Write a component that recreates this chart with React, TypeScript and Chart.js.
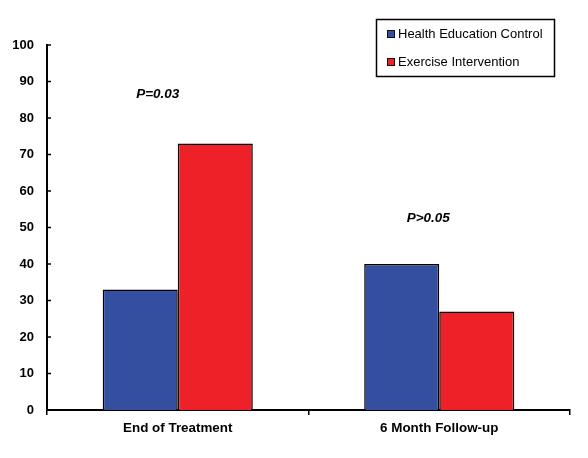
import React, { useEffect, useRef } from "react";
import { Chart, registerables } from "chart.js";

Chart.register(...registerables);

const categories = ["End of Treatment", "6 Month Follow-up"];
const seriesLabels = ["Health Education Control", "Exercise Intervention"];
const controlValues = [33, 40];
const exerciseValues = [73, 27];
const yTickValues = [0, 10, 20, 30, 40, 50, 60, 70, 80, 90, 100];
const pLabels = ["P=0.03", "P>0.05"];
const pLabelValues = [86.5, 52.5];

const BLUE = "#344EA0";
const RED = "#EE2128";
const FONT = "'Liberation Sans', Arial, sans-serif";

const annotationPlugin = {
  id: "annotations",
  afterDraw(chart: any) {
    const ctx = chart.ctx;
    const x = chart.scales.x;
    const y = chart.scales.y;
    ctx.save();
    // inward y ticks
    ctx.strokeStyle = "#000";
    ctx.lineWidth = 1.5;
    yTickValues.forEach((v) => {
      const py = y.getPixelForValue(v);
      ctx.beginPath();
      ctx.moveTo(chart.chartArea.left, py);
      ctx.lineTo(chart.chartArea.left + 4, py);
      ctx.stroke();
    });
    // p labels
    const offsets = [-20, -11];
    ctx.fillStyle = "#000";
    ctx.font = `italic bold 13.5px ${FONT}`;
    ctx.textAlign = "center";
    ctx.textBaseline = "middle";
    pLabels.forEach((t, i) => {
      ctx.fillText(t, x.getPixelForValue(i) + offsets[i], y.getPixelForValue(pLabelValues[i]));
    });
    // legend box
    const bx = 376.5, by = 19.5, bw = 178, bh = 57;
    ctx.lineWidth = 1.5;
    ctx.strokeStyle = "#000";
    ctx.strokeRect(bx, by, bw, bh);
    ctx.font = `13px ${FONT}`;
    ctx.textAlign = "left";
    chart.data.datasets.forEach((ds: any, i: number) => {
      const cy = by + 14.5 + i * 28;
      ctx.fillStyle = ds.backgroundColor;
      ctx.fillRect(bx + 11, cy - 3.5, 7, 7);
      ctx.lineWidth = 1;
      ctx.strokeStyle = "#111";
      ctx.strokeRect(bx + 11, cy - 3.5, 7, 7);
      ctx.fillStyle = "#000";
      ctx.fillText(ds.label, bx + 21.5, cy);
    });
    ctx.restore();
  },
};

export default function App() {
  const ref = useRef<HTMLCanvasElement | null>(null);
  useEffect(() => {
    document.body.style.margin = "0";
    const chart = new Chart(ref.current as HTMLCanvasElement, {
      type: "bar",
      data: {
        labels: categories,
        datasets: [
          {
            label: seriesLabels[0],
            data: controlValues,
            backgroundColor: BLUE,
            borderColor: "#000",
            borderWidth: 1.5,
          },
          {
            label: seriesLabels[1],
            data: exerciseValues,
            backgroundColor: RED,
            borderColor: "#000",
            borderWidth: 1.5,
          },
        ],
      },
      options: {
        responsive: false,
        animation: false,
        layout: { padding: { top: 45, right: 18, left: 0, bottom: 0 } },
        plugins: { legend: { display: false }, tooltip: { enabled: false } },
        datasets: { bar: { categoryPercentage: 0.574, barPercentage: 1.0 } },
        scales: {
          x: {
            grid: {
              display: true,
              offset: true,
              drawOnChartArea: false,
              drawTicks: true,
              tickLength: 5,
              color: "#000",
              lineWidth: 1.5,
            },
            border: { display: true, color: "#000", width: 2 },
            ticks: {
              color: "#000",
              padding: 5,
              font: { family: FONT, size: 13.4, weight: "bold" },
            },
            afterFit(scale: any) {
              scale.height = 48;
            },
          },
          y: {
            min: 0,
            max: 100,
            grid: { display: false, drawTicks: false },
            border: { display: true, color: "#000", width: 2 },
            ticks: {
              stepSize: 10,
              color: "#000",
              padding: 13,
              font: { family: FONT, size: 13, weight: "bold" },
            },
            afterFit(scale: any) {
              scale.width = 47;
            },
          },
        },
      },
      plugins: [annotationPlugin],
    });
    return () => chart.destroy();
  }, []);
  return (
    <div style={{ width: 588, height: 458 }}>
      <canvas ref={ref} width={588} height={458} />
    </div>
  );
}
